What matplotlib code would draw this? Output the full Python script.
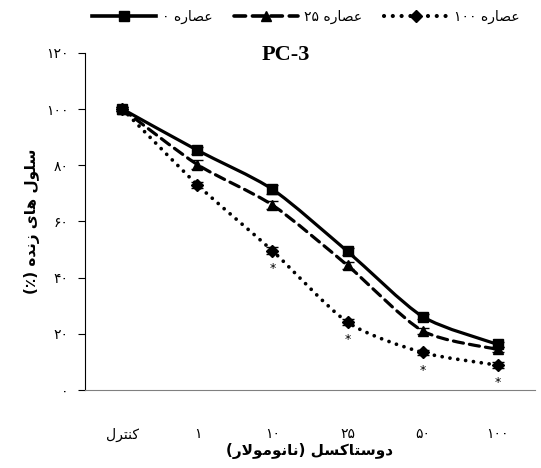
import re
import numpy as np
import matplotlib.pyplot as plt
from matplotlib.path import Path
from matplotlib.patches import PathPatch
from matplotlib.lines import Line2D

# --- minimal Persian shaping (matplotlib has no bidi / joining support) ---
FORMS = {  # isolated, final, initial, medial
    'ع': '\uFEC9\uFECA\uFECB\uFECC',
    'ص': '\uFEB9\uFEBA\uFEBB\uFEBC',
    'ه': '\uFEE9\uFEEA\uFEEB\uFEEC',
    'س': '\uFEB1\uFEB2\uFEB3\uFEB4',
    'ل': '\uFEDD\uFEDE\uFEDF\uFEE0',
    'ن': '\uFEE5\uFEE6\uFEE7\uFEE8',
    'ت': '\uFE95\uFE96\uFE97\uFE98',
    'م': '\uFEE1\uFEE2\uFEE3\uFEE4',
    'ک': '\uFB8E\uFB8F\uFB90\uFB91',
    'ی': '\uFBFC\uFBFD\uFBFE\uFBFF',
    'ا': '\uFE8D\uFE8E',
    'ر': '\uFEAD\uFEAE',
    'ز': '\uFEAF\uFEB0',
    'د': '\uFEA9\uFEAA',
    'و': '\uFEED\uFEEE',
}


def fa(text):
    out = []
    chars = list(text)
    i = 0
    while i < len(chars):
        c = chars[i]
        if c not in FORMS:
            out.append(c)
            i += 1
            continue
        prev = chars[i - 1] if i > 0 else ''
        join_prev = prev in FORMS and len(FORMS[prev]) == 4
        # lam + alef ligature
        if c == 'ل' and i + 1 < len(chars) and chars[i + 1] == 'ا':
            out.append('\uFEFC' if join_prev else '\uFEFB')
            i += 2
            continue
        nxt = chars[i + 1] if i + 1 < len(chars) else ''
        f = FORMS[c]
        join_next = len(f) == 4 and nxt in FORMS
        if join_prev and join_next:
            out.append(f[3])
        elif join_prev:
            out.append(f[1])
        elif join_next:
            out.append(f[2])
        else:
            out.append(f[0])
        i += 1
    s = ''.join(out)[::-1]
    s = re.sub(r'[۰-۹]+', lambda m: m.group()[::-1], s)
    return s.translate(str.maketrans('()', ')('))


# --- data ---
categories = ['کنترل', '۱', '۱۰', '۲۵', '۵۰', '۱۰۰']
extract_0 = [100, 85.3, 71.4, 49.3, 26.1, 16.2]
extract_25 = [100, 80.2, 65.8, 44.3, 21.0, 14.4]
extract_100 = [100, 73.0, 49.5, 24.1, 13.3, 8.8]
err_0 = [0.8, 1.2, 1.5, 1.2, 1.0, 1.0]
err_25 = [0.8, 1.5, 1.5, 1.2, 1.0, 1.0]
err_100 = [0.8, 1.0, 1.2, 1.0, 1.0, 1.0]
significant = [False, False, True, True, True, True]
series_names = ['عصاره ۰', 'عصاره ۲۵', 'عصاره ۱۰۰']
yticks = [0, 20, 40, 60, 80, 100, 120]
persian_digits = str.maketrans('0123456789', '۰۱۲۳۴۵۶۷۸۹')

plt.rcParams['font.family'] = ['DejaVu Sans']

fig = plt.figure(figsize=(5.41, 4.68), dpi=100)
ax = fig.add_axes([0.157, 0.167, 0.832, 0.72])

x = np.arange(len(categories))


def smooth_path(xs, ys):
    # smoothed line through the points (cubic Bezier segments)
    pts = np.column_stack([xs, ys]).astype(float)
    verts = [pts[0]]
    codes = [Path.MOVETO]
    n = len(pts)
    for i in range(n - 1):
        p0 = pts[i - 1] if i > 0 else pts[i]
        p1 = pts[i]
        p2 = pts[i + 1]
        p3 = pts[i + 2] if i + 2 < n else pts[i + 1]
        c1 = p1 + (p2 - p0) / 8
        c2 = p2 - (p3 - p1) / 8
        verts += [c1, c2, p2]
        codes += [Path.CURVE4] * 3
    return Path(verts, codes)


styles = [
    dict(ls='-', marker='s', ms=6.5, lw=2.3, dashes=None),
    dict(ls='--', marker='^', ms=7, lw=2.3, dashes=(3.2, 1.9)),
    dict(ls=':', marker='D', ms=6.5, lw=2.7, dashes=(0.01, 2.1)),
]
data = [extract_0, extract_25, extract_100]
errs = [err_0, err_25, err_100]

for vals, ee, st in zip(data, errs, styles):
    patch = PathPatch(smooth_path(x, vals), facecolor='none', edgecolor='black',
                      lw=st['lw'], linestyle=st['ls'], capstyle='round', zorder=2)
    if st['dashes'] is not None:
        patch.set_linestyle((0, st['dashes']))
    ax.add_patch(patch)
    ax.errorbar(x, vals, yerr=ee, fmt='none', ecolor='black', elinewidth=1,
                capsize=4, capthick=1, zorder=3)
    ax.plot(x, vals, ls='none', marker=st['marker'], ms=st['ms'],
            color='black', zorder=4)

for xi, v, sig in zip(x, extract_100, significant):
    if sig:
        ax.annotate('*', (xi, v), xytext=(0, -8), textcoords='offset points',
                    ha='center', va='top', fontsize=9)

ax.set_xlim(-0.5, len(categories) - 0.5)
ax.set_ylim(0, 120)
ax.set_yticks(yticks)
ax.set_yticklabels([str(t).translate(persian_digits) for t in yticks], fontsize=10)
ax.set_xticks(x)
ax.set_xticklabels([fa(c) for c in categories], fontsize=10)
ax.tick_params(axis='x', length=0, pad=27)
ax.tick_params(axis='y', length=5, direction='out', pad=7)
for side in ['top', 'right']:
    ax.spines[side].set_visible(False)
ax.spines['bottom'].set_color('#808080')
ax.spines['left'].set_color('black')

ax.set_xlabel(fa('دوستاکسل (نانومولار)'), fontsize=11, fontweight='bold', labelpad=1)
ax.set_ylabel(fa('سلول های زنده (٪)'), fontsize=11, fontweight='bold', labelpad=4)
fig.text(0.529, 1 - 55 / 468, 'PC-3', ha='center', va='center',
         fontsize=16, fontweight='bold', family='Liberation Serif')

handles = []
for st in styles:
    h = Line2D([], [], color='black', lw=st['lw'] + 0.3, ls=st['ls'],
               marker=st['marker'], ms=st['ms'], dash_capstyle='round')
    if st['dashes'] is not None:
        h.set_dashes(st['dashes'])
    handles.append(h)
fig.legend(handles, [fa(s) for s in series_names], loc='upper center',
           bbox_to_anchor=(0.565, 1.005), ncol=3, frameon=False, fontsize=10,
           numpoints=1, handlelength=4.6, handletextpad=0.4, columnspacing=1.6)

fig.savefig('out.png', dpi=100)
